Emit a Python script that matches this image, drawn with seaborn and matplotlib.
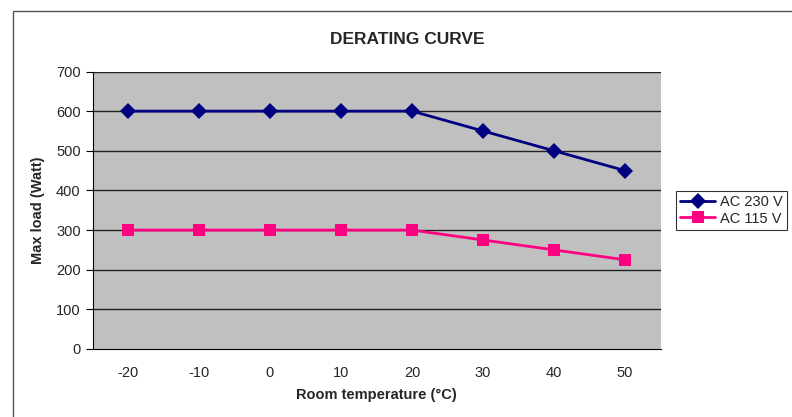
import pandas as pd
import matplotlib.pyplot as plt
import seaborn as sns
from matplotlib.patches import Rectangle

# Derating curve data
temperatures = [-20, -10, 0, 10, 20, 30, 40, 50]
ac230 = [600, 600, 600, 600, 600, 550, 500, 450]
ac115 = [300, 300, 300, 300, 300, 275, 250, 225]
series_names = ["AC 230 V", "AC 115 V"]
y_ticks = [0, 100, 200, 300, 400, 500, 600, 700]

pos = list(range(len(temperatures)))
df = pd.DataFrame({
    "pos": pos * 2,
    "load": ac230 + ac115,
    "series": [series_names[0]] * len(pos) + [series_names[1]] * len(pos),
})

sns.set_style("white")
plt.rcParams['font.family'] = ['Liberation Sans', 'DejaVu Sans']

fig = plt.figure(figsize=(7.92, 4.17), dpi=100)
ax = fig.add_axes([92.5 / 792, 1 - 349 / 417, (660.5 - 92.5) / 792, (349 - 71.5) / 417])
ax.set_facecolor("#C0C0C0")

palette = {series_names[0]: "#000080", series_names[1]: "#FF0080"}
markers = {series_names[0]: "D", series_names[1]: "s"}
sns.lineplot(data=df, x="pos", y="load", hue="series", style="series",
             palette=palette, markers=markers, dashes=False, linewidth=2,
             markersize=8, markeredgewidth=0, ax=ax)

ax.set_xlim(-0.5, len(temperatures) - 0.5)
ax.set_ylim(0, 700)
ax.set_yticks(y_ticks)
ax.set_yticklabels([str(v) for v in y_ticks], fontsize=10.5)
for v in y_ticks[1:]:
    ax.axhline(v, color="#222222", linewidth=1, zorder=0.5)

ax.set_xticks(pos)
ax.set_xticklabels([str(t) for t in temperatures], fontsize=10.5)
ax.set_xticks([p - 0.5 for p in pos] + [len(pos) - 0.5], minor=True)
ax.tick_params(axis="x", which="major", length=0, pad=12)
ax.tick_params(axis="x", which="minor", length=5, direction="out", color="black", width=0.8)
ax.tick_params(axis="y", length=5, direction="out", color="black", width=0.8, left=True)

for side in ["top", "right"]:
    ax.spines[side].set_visible(False)
for side in ["left", "bottom"]:
    ax.spines[side].set_color("black")
    ax.spines[side].set_linewidth(0.8)

ax.set_xlabel("Room temperature (°C)", fontsize=10.5, fontweight="bold", labelpad=6)
ax.set_ylabel("Max load (Watt)", fontsize=10.5, fontweight="bold", labelpad=8)
fig.text(407 / 792, 1 - 39 / 417, "DERATING CURVE", ha="center", va="center",
         fontsize=12.5, fontweight="bold")

leg = ax.legend(loc="upper left", bbox_to_anchor=(676 / 792, 1 - 191 / 417),
                bbox_transform=fig.transFigure, frameon=True, fancybox=False,
                fontsize=10.5, handlelength=2.4, borderpad=0.3, labelspacing=0.15,
                handletextpad=0.3, borderaxespad=0)
leg.get_frame().set_edgecolor("black")
leg.get_frame().set_linewidth(0.8)

# outer chart border (left and top edges visible)
fig.patches.append(Rectangle((13 / 792, -0.1), 1.2, 1 - 11 / 417 + 0.1,
                             transform=fig.transFigure, fill=False,
                             edgecolor="#555555", linewidth=1))

fig.savefig("out.png", dpi=100)
